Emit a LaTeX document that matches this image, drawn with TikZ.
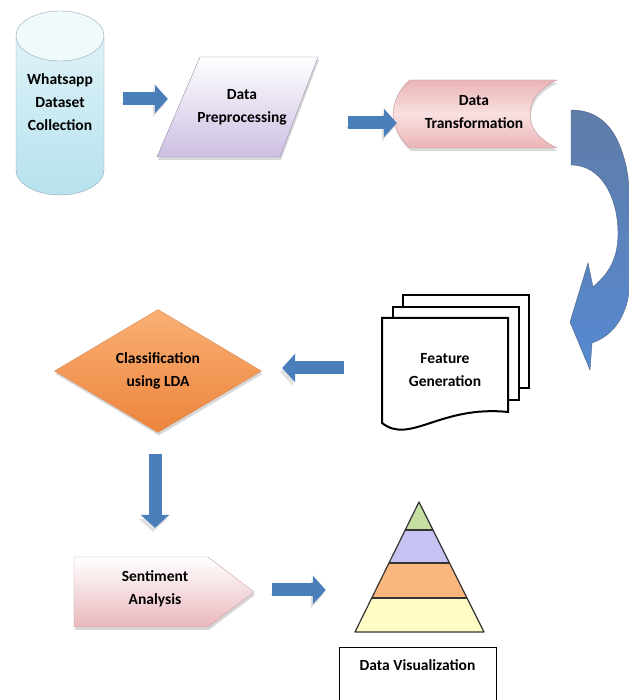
\documentclass[tikz,border=0pt]{standalone}
\usepackage{fontspec}
\setmainfont{Carlito}
\usetikzlibrary{arrows.meta,shapes.geometric,shadows,positioning}

\definecolor{flowblue}{RGB}{74,126,187}
\definecolor{cylblue}{RGB}{182,226,238}
\definecolor{cyledge}{RGB}{150,170,178}
\definecolor{prepviolet}{RGB}{204,190,226}
\definecolor{prepedge}{RGB}{150,140,170}
\definecolor{transpink}{RGB}{234,180,182}
\definecolor{translight}{RGB}{249,224,224}
\definecolor{transedge}{RGB}{196,150,152}
\definecolor{lightorange}{RGB}{250,176,116}
\definecolor{deeporange}{RGB}{236,132,60}
\definecolor{diagedge}{RGB}{214,140,90}
\definecolor{sentpink}{RGB}{234,184,188}
\definecolor{sentedge}{RGB}{200,160,162}
\definecolor{arctop}{RGB}{96,124,168}
\definecolor{arcbottom}{RGB}{86,138,210}
\definecolor{pyrgreen}{RGB}{198,224,162}
\definecolor{pyrviolet}{RGB}{198,194,242}
\definecolor{pyrorange}{RGB}{250,182,124}
\definecolor{pyryellow}{RGB}{255,252,198}

\begin{document}
\begin{tikzpicture}[x=1pt,y=1pt,
    txt/.style={font=\bfseries\fontsize{15.5}{23}\selectfont,align=center,inner sep=0pt},
    flow/.style={line width=13pt,flowblue,-{Triangle[length=13pt,width=28pt]},
      preaction={draw=black!12,transform canvas={shift={(-2pt,-4pt)}}}},
    soft/.style={drop shadow={opacity=0.3,shadow xshift=1pt,shadow yshift=-3pt}},
    page/.style={draw=black,line width=2pt,fill=white,line join=miter}]
  \useasboundingbox[fill=white] (0,0) rectangle (628,700);

  % whatsapp data
  \draw[cyledge,top color=cylblue!45,bottom color=cylblue]
    (16,664) -- (16,530) arc[start angle=180,end angle=360,x radius=44,y radius=25] -- (104,664) -- cycle;
  \draw[cyledge,fill=cylblue!20] (60,664) ellipse[x radius=44,y radius=25];
  \node[txt,minimum width=88pt,minimum height=185pt] (coll) at (60,597.5) {Whatsapp\\Dataset\\Collection};

  % preprocessing
  \draw[soft,prepedge,top color=white,bottom color=prepviolet]
    (200,643) -- (318,643) -- (280,543) -- (157,543) -- cycle;
  \node[txt,minimum width=161pt,minimum height=100pt] (prep) at (242,593) {Data\\Preprocessing};

  % transformation
  \draw[soft,transedge,top color=transpink,bottom color=transpink,middle color=translight]
    (410,620) -- (557,620) .. controls (536,610) and (530,598) .. (530,586)
    .. controls (530,574) and (536,562) .. (557,552) -- (410,552)
    .. controls (400,560) and (393,574) .. (393,586)
    .. controls (393,598) and (400,612) .. (410,620) -- cycle;
  \node[txt,minimum width=164pt,minimum height=68pt] (trans) at (474,588) {Data\\Transformation};

  % curved arrow down the right side
  \draw[arctop!80!black,top color=arctop,bottom color=arcbottom]
    (571,590) to[out=0,in=90] (632,450) to[out=-90,in=20] (592,357)
    -- (590,330) -- (570,378) -- (588,437) -- (593,413)
    to[out=40,in=-90] (618,467) to[out=90,in=0] (571,535) -- cycle;

  % feature generation
  \draw[page] (403,405) rectangle (529,312);
  \draw[page] (393,393) rectangle (519,300);
  \draw[page] (382,382) -- (508,382) -- (508,288)
    .. controls (440,295) and (410,255) .. (382,277) -- cycle;
  \node[txt,minimum width=126pt,minimum height=105pt] (feat) at (445,330) {Feature\\Generation};

  % classification
  \node[txt,diamond,aspect=1.7,minimum width=207pt,minimum height=123pt,
    draw=diagedge,top color=lightorange,bottom color=deeporange,soft] (diag) at (158,329) {Classification\\using LDA};

  % sentiment
  \draw[soft,sentedge,top color=white,bottom color=sentpink]
    (74,143) -- (208,143) -- (254,108) -- (208,73) -- (74,73) -- cycle;
  \node[txt,minimum width=162pt,minimum height=70pt] (sent) at (155,111) {Sentiment\\Analysis};

  % pyramid
  \begin{scope}
    \clip (355,68) -- (419,198) -- (484,68) -- cycle;
    \fill[pyryellow] (340,60) rectangle (500,102);
    \fill[pyrorange] (340,102) rectangle (500,137);
    \fill[pyrviolet] (340,137) rectangle (500,170);
    \fill[pyrgreen] (340,170) rectangle (500,210);
    \draw[line width=2.2pt,black!80] (340,102) -- (500,102) (340,137) -- (500,137) (340,170) -- (500,170);
  \end{scope}
  \draw[line width=1.2pt,black!80,line join=round] (355,68) -- (419,198) -- (484,68) -- cycle;
  \node[minimum width=129pt,minimum height=130pt,inner sep=0pt] (pyr) at (419.5,133) {};

  \node[txt,draw,line width=1pt,anchor=north,minimum width=157pt,text height=11pt,text depth=45pt,
    inner ysep=12pt] (vis) at (417.5,53) {Data Visualization};

  \draw[flow] ([xshift=19pt,yshift=3.5pt]coll.east) -- ([xshift=6.5pt,yshift=8pt]prep.west);
  \draw[flow] ([xshift=25.5pt,yshift=-16pt]prep.east) -- ([xshift=5pt,yshift=-11pt]trans.west);
  \draw[flow] ([xshift=-38pt,yshift=2pt]feat.west) -- ([xshift=20.5pt,yshift=3pt]diag.east);
  \draw[flow] ([xshift=-3pt,yshift=-21pt]diag.south) -- ([yshift=26pt]sent.north);
  \draw[flow] ([xshift=36pt,yshift=-1pt]sent.east) -- ([xshift=-29pt,yshift=-23pt]pyr.west);
\end{tikzpicture}
\end{document}
